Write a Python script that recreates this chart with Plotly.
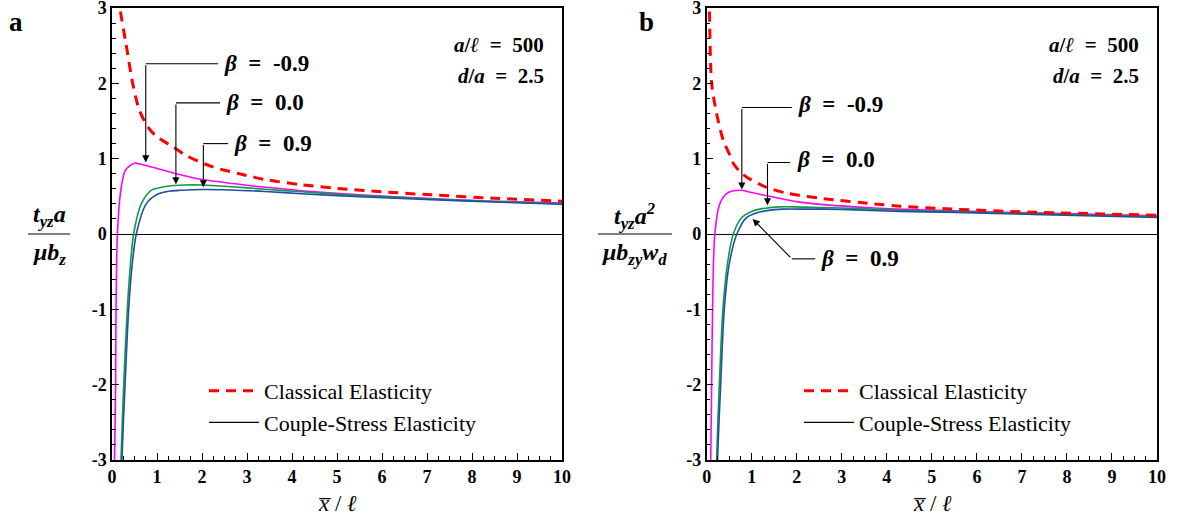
import plotly.graph_objects as go

# ---------------- data ----------------
# Panel a
a_cl_x = [0.15, 0.18, 0.31, 0.46, 0.61, 0.80, 1.0, 1.35, 1.65, 2.24, 2.83, 3.43, 4.2, 5.0, 6.0, 7.1, 8.5, 10]
a_cl_y = [3.4, 3.0, 2.53, 2.0, 1.64, 1.42, 1.29, 1.16, 1.04, 0.89, 0.80, 0.72, 0.655, 0.605, 0.56, 0.52, 0.475, 0.435]

a_m_x = [0.05, 0.056, 0.08, 0.09, 0.12, 0.2, 0.3, 0.5, 0.75, 1.0, 1.43, 1.94, 2.68, 3.43, 4.2, 5.5, 7.1, 8.5, 10]
a_m_y = [-3.4, -3.0, -2.0, -1.0, 0.0, 0.6, 0.85, 0.94, 0.91, 0.87, 0.80, 0.73, 0.67, 0.62, 0.575, 0.52, 0.47, 0.435, 0.41]

a_g_x = [0.19, 0.20, 0.26, 0.34, 0.41, 0.48, 0.65, 0.87, 1.1, 1.31, 1.6, 2.0, 2.6, 3.4, 4.2, 5.5, 7.1, 8.5, 10]
a_g_y = [-3.4, -3.0, -2.0, -1.0, -0.4, 0.0, 0.4, 0.58, 0.62, 0.64, 0.65, 0.65, 0.63, 0.595, 0.56, 0.51, 0.465, 0.43, 0.40]

a_b_x = [0.21, 0.22, 0.29, 0.37, 0.45, 0.54, 0.76, 1.02, 1.3, 1.54, 2.0, 2.6, 3.4, 4.2, 5.5, 7.1, 8.5, 10]
a_b_y = [-3.4, -3.0, -2.0, -1.0, -0.4, 0.0, 0.4, 0.53, 0.57, 0.58, 0.59, 0.585, 0.565, 0.535, 0.495, 0.455, 0.425, 0.395]

# Panel b
b_cl_x = [0.05, 0.06, 0.11, 0.22, 0.37, 0.52, 0.6, 0.75, 0.9, 1.33, 1.8, 2.59, 3.7, 4.3, 5.3, 7.25, 10]
b_cl_y = [3.4, 3.0, 2.0, 1.6, 1.24, 1.04, 0.93, 0.82, 0.75, 0.62, 0.54, 0.47, 0.40, 0.37, 0.335, 0.29, 0.25]

b_m_x = [0.085, 0.09, 0.11, 0.13, 0.18, 0.29, 0.45, 0.74, 1.0, 1.48, 2.0, 2.59, 3.3, 4.07, 5.3, 7.25, 10]
b_m_y = [-3.4, -3.0, -2.0, -1.0, 0.0, 0.4, 0.54, 0.58, 0.55, 0.49, 0.43, 0.39, 0.36, 0.335, 0.31, 0.28, 0.24]

b_g_x = [0.21, 0.22, 0.28, 0.36, 0.46, 0.59, 0.78, 1.0, 1.18, 1.6, 2.0, 2.6, 3.3, 4.3, 5.3, 7.25, 10]
b_g_y = [-3.4, -3.0, -2.0, -1.0, -0.4, 0.0, 0.22, 0.30, 0.33, 0.36, 0.36, 0.35, 0.34, 0.315, 0.30, 0.27, 0.23]

b_b_x = [0.23, 0.24, 0.31, 0.39, 0.5, 0.67, 0.89, 1.1, 1.33, 1.7, 2.2, 2.6, 3.3, 4.3, 5.3, 7.25, 10]
b_b_y = [-3.4, -3.0, -2.0, -1.0, -0.4, 0.0, 0.22, 0.28, 0.31, 0.33, 0.33, 0.33, 0.32, 0.30, 0.29, 0.26, 0.22]

x_tick_vals = [0, 1, 2, 3, 4, 5, 6, 7, 8, 9, 10]
x_tick_text = ["0", "1", "2", "3", "4", "5", "6", "7", "8", "9", "10"]
y_tick_vals = [-3, -2, -1, 0, 1, 2, 3]
y_tick_text = ["-3", "-2", "-1", "0", "1", "2", "3"]

legend_names = ["Classical Elasticity", "Couple-Stress Elasticity"]
beta_labels = ["-0.9", "0.0", "0.9"]

# ---------------- styling ----------------
W, H = 1180, 526
ML, MR, MT, MB = 112, 23, 8, 66
PW = W - ML - MR
PH = H - MT - MB
SERIF = "Liberation Serif, Times New Roman, serif"
MAG, GRN, BLU, RED = "#FF00FF", "#139A48", "#1D4FA3", "#FF0000"
SP = "\u2002"


def pp(xp, yp):
    """pixel -> paper coordinates"""
    return (xp - ML) / PW, (H - MB - yp) / PH


fig = go.Figure()

panels = [
    dict(xa="x", ya="y", leg="legend", cl=(a_cl_x, a_cl_y), m=(a_m_x, a_m_y), g=(a_g_x, a_g_y), b=(a_b_x, a_b_y)),
    dict(xa="x2", ya="y2", leg="legend2", cl=(b_cl_x, b_cl_y), m=(b_m_x, b_m_y), g=(b_g_x, b_g_y), b=(b_b_x, b_b_y)),
]

for p in panels:
    for key, col in (("m", MAG), ("g", GRN), ("b", BLU)):
        fig.add_trace(go.Scatter(x=p[key][0], y=p[key][1], mode="lines", xaxis=p["xa"], yaxis=p["ya"],
                                 line=dict(color=col, width=1.6, shape="spline", smoothing=0.8),
                                 showlegend=False, hoverinfo="skip"))
    fig.add_trace(go.Scatter(x=p["cl"][0], y=p["cl"][1], mode="lines", xaxis=p["xa"], yaxis=p["ya"],
                             line=dict(color=RED, width=3, dash="10px,7px", shape="spline", smoothing=0.8),
                             name=legend_names[0], legend=p["leg"]))
    fig.add_trace(go.Scatter(x=[None], y=[None], mode="lines", xaxis=p["xa"], yaxis=p["ya"],
                             line=dict(color="black", width=1.3),
                             name=legend_names[1], legend=p["leg"]))

axis_common = dict(showline=True, linecolor="black", linewidth=1.5, mirror=True, automargin=False,
                   ticks="inside", ticklen=7, tickwidth=1.3, tickcolor="black", ticklabeloverflow="allow",
                   showgrid=False, tickfont=dict(family=SERIF, size=18, color="black", weight="bold"))

dom1 = [0, 450 / PW]
dom2 = [(706.7 - ML) / PW, 1]

for xname, yname, dom, anchor_x, anchor_y in (("xaxis", "yaxis", dom1, "y", "x"),
                                               ("xaxis2", "yaxis2", dom2, "y2", "x2")):
    fig.update_layout(**{
        xname: dict(axis_common, domain=dom, anchor=anchor_x, range=[0, 10], tickvals=x_tick_vals,
                    ticktext=x_tick_text, zeroline=False,
                    minor=dict(ticks="inside", ticklen=4, tickwidth=1, tickcolor="black", dtick=0.25, tick0=0)),
        yname: dict(axis_common, domain=[0, 1], anchor=anchor_y, range=[-3, 3], tickvals=y_tick_vals,
                    ticktext=y_tick_text, zeroline=True, zerolinecolor="black", zerolinewidth=1.2,
                    minor=dict(ticks="inside", ticklen=4, tickwidth=1, tickcolor="black", dtick=0.2, tick0=0)),
    })

leg_common = dict(font=dict(family=SERIF, size=22, color="black"), bgcolor="rgba(0,0,0,0)",
                  xanchor="left", yanchor="top", tracegroupgap=0, itemwidth=50)
lx1, ly1 = pp(204, 370)
lx2, ly2 = pp(799, 370)
fig.update_layout(legend=dict(leg_common, x=lx1, y=ly1), legend2=dict(leg_common, x=lx2, y=ly2))

shapes = []
annotations = []
beta_font = dict(family=SERIF, size=23, color="black", weight="bold")

# ----- beta callouts -----
# panel a: elbow connectors (horizontal then vertical arrow)
callouts_a = [  # (x_vertical, y_horizontal, x_text_start, y_tip)
    (0.75, 2.26, 2.36, 0.95),
    (1.42, 1.74, 2.40, 0.66),
    (2.03, 1.20, 2.58, 0.62),
]
for (xv, yh, xt, yt), lab in zip(callouts_a, beta_labels):
    shapes.append(dict(type="line", xref="x", yref="y", x0=xv, y0=yh, x1=xt, y1=yh,
                       line=dict(color="black", width=1.1)))
    annotations.append(dict(x=xv, y=yt, ax=xv, ay=yh, xref="x", yref="y", axref="x", ayref="y",
                            text="", showarrow=True, arrowhead=2, arrowsize=1.3, arrowwidth=1.1,
                            arrowcolor="black", standoff=0))
    annotations.append(dict(x=xt + 0.08, y=yh, xref="x", yref="y", xanchor="left", yanchor="middle",
                            text="<i>β</i>" + SP + "=" + SP + lab, showarrow=False, font=beta_font))

# panel b
callouts_b = [
    (0.78, 1.68, 1.89, 0.59),
    (1.35, 0.95, 1.85, 0.38),
]
for (xv, yh, xt, yt), lab in zip(callouts_b, beta_labels[:2]):
    shapes.append(dict(type="line", xref="x2", yref="y2", x0=xv, y0=yh, x1=xt, y1=yh,
                       line=dict(color="black", width=1.1)))
    annotations.append(dict(x=xv, y=yt, ax=xv, ay=yh, xref="x2", yref="y2", axref="x2", ayref="y2",
                            text="", showarrow=True, arrowhead=2, arrowsize=1.3, arrowwidth=1.1,
                            arrowcolor="black", standoff=0))
    annotations.append(dict(x=xt + 0.1, y=yh + 0.04, xref="x2", yref="y2", xanchor="left", yanchor="middle",
                            text="<i>β</i>" + SP + "=" + SP + lab, showarrow=False, font=beta_font))
# beta = 0.9 in panel b: horizontal then diagonal arrow
shapes.append(dict(type="line", xref="x2", yref="y2", x0=1.89, y0=-0.33, x1=2.41, y1=-0.33,
                   line=dict(color="black", width=1.1)))
annotations.append(dict(x=1.02, y=0.20, ax=1.89, ay=-0.33, xref="x2", yref="y2", axref="x2", ayref="y2",
                        text="", showarrow=True, arrowhead=2, arrowsize=1.3, arrowwidth=1.1,
                        arrowcolor="black", standoff=0))
annotations.append(dict(x=2.5, y=-0.33, xref="x2", yref="y2", xanchor="left", yanchor="middle",
                        text="<i>β</i>" + SP + "=" + SP + beta_labels[2], showarrow=False, font=beta_font))

# ----- parameter text -----
for xr, yr in (("x", "y"), ("x2", "y2")):
    annotations.append(dict(x=9.65, y=2.51, xref=xr, yref=yr, xanchor="right", yanchor="middle",
                            text="<i>a</i>/<i>ℓ</i>" + SP + "=" + SP + "500", showarrow=False,
                            font=dict(family=SERIF, size=21, color="black", weight="bold")))
    annotations.append(dict(x=9.65, y=2.10, xref=xr, yref=yr, xanchor="right", yanchor="middle",
                            text="<i>d</i>/<i>a</i>" + SP + "=" + SP + "2.5", showarrow=False,
                            font=dict(family=SERIF, size=21, color="black", weight="bold")))

# ----- panel letters -----
for letter, xp in (("a", 16), ("b", 646)):
    px_, py_ = pp(xp, 22)
    annotations.append(dict(x=px_, y=py_, xref="paper", yref="paper", xanchor="center", yanchor="middle",
                            text=letter, showarrow=False,
                            font=dict(family=SERIF, size=27, color="black", weight="bold")))

# ----- x axis titles -----
for xc in (337, 932):
    px_, py_ = pp(xc, 503)
    annotations.append(dict(x=px_, y=py_, xref="paper", yref="paper", xanchor="center", yanchor="middle",
                            text="<i>x\u0305</i> / <i>ℓ</i>", showarrow=False,
                            font=dict(family=SERIF, size=23, color="black")))

# ----- y axis titles (fractions) -----
frac_font = dict(family=SERIF, size=24, color="black", weight="bold", style="italic")
fracs = [
    (49, "t<sub>yz</sub>a", "μb<sub>z</sub>", 28, 70),
    (634, "t<sub>yz</sub>a<sup>2</sup>", "μb<sub>zy</sub>w<sub>d</sub>", 598, 672),
]
for xc, num, den, x0p, x1p in fracs:
    nx, ny = pp(xc, 216)
    dx, dy = pp(xc, 254)
    annotations.append(dict(x=nx, y=ny, xref="paper", yref="paper", xanchor="center", yanchor="middle",
                            text=num, showarrow=False, font=frac_font))
    annotations.append(dict(x=dx, y=dy, xref="paper", yref="paper", xanchor="center", yanchor="middle",
                            text=den, showarrow=False, font=frac_font))
    lx0, ly = pp(x0p, 234)
    lx1_, _ = pp(x1p, 234)
    shapes.append(dict(type="line", xref="paper", yref="paper", x0=lx0, y0=ly, x1=lx1_, y1=ly,
                       line=dict(color="black", width=1.2)))

fig.update_layout(width=W, height=H, margin=dict(l=ML, r=MR, t=MT, b=MB, autoexpand=False),
                  paper_bgcolor="white", plot_bgcolor="white",
                  shapes=shapes, annotations=annotations, hovermode=False)

fig.write_html("out.html", config={"displayModeBar": False},
               post_script="document.body.style.margin='0px';document.body.style.overflow='hidden';")
